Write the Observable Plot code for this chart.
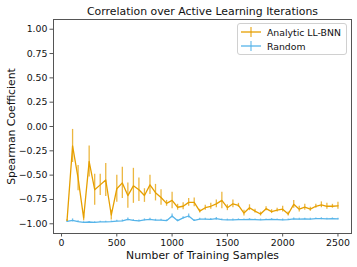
<!DOCTYPE html>
<html>
<head>
<meta charset="utf-8">
<script src="https://cdn.jsdelivr.net/npm/d3@7"></script>
<script src="https://cdn.jsdelivr.net/npm/@observablehq/plot@0.6"></script>
<style>
  html, body { margin: 0; padding: 0; background: white; }
  #wrap { position: relative; width: 357px; height: 267px; font-family: "DejaVu Sans", sans-serif; }
  #legend { position: absolute; left: 237px; top: 23px; width: 108px; height: 30px;
            border: 1px solid #d0d0d0; border-radius: 3px; background: rgba(255,255,255,0.85);
            font-size: 9.3px; color: #111; }
  .row { position: absolute; left: 3px; height: 12px; display: flex; align-items: center; }
  .row svg { margin-right: 6px; }
</style>
</head>
<body>
<div id="wrap"><div id="legend"></div></div>
<script>
const samples = [50,100,150,200,250,300,350,400,450,500,550,600,650,700,750,800,850,900,950,1000,
  1050,1100,1150,1200,1250,1300,1350,1400,1450,1500,1550,1600,1650,1700,1750,1800,1850,1900,1950,2000,
  2050,2100,2150,2200,2250,2300,2350,2400,2450,2500];

const llbnnMean = [-0.965,-0.20,-0.53,-0.94,-0.36,-0.65,-0.60,-0.55,-0.91,-0.64,
  -0.58,-0.71,-0.61,-0.65,-0.71,-0.60,-0.68,-0.73,-0.79,-0.76,
  -0.83,-0.82,-0.78,-0.78,-0.87,-0.835,-0.82,-0.795,-0.76,-0.835,
  -0.795,-0.81,-0.89,-0.835,-0.87,-0.90,-0.845,-0.875,-0.86,-0.85,
  -0.90,-0.80,-0.85,-0.83,-0.85,-0.82,-0.805,-0.82,-0.82,-0.815];
const llbnnErr = [0.01,0.17,0.13,0.03,0.16,0.16,0.11,0.17,0.05,0.14,
  0.16,0.13,0.18,0.12,0.07,0.10,0.085,0.08,0.03,0.085,
  0.03,0.035,0.04,0.045,0.02,0.025,0.03,0.04,0.085,0.03,
  0.04,0.02,0.03,0.03,0.02,0.02,0.02,0.02,0.02,0.03,
  0.02,0.04,0.03,0.03,0.02,0.02,0.03,0.03,0.02,0.035];

const randomMean = [-0.975,-0.965,-0.978,-0.985,-0.982,-0.985,-0.98,-0.98,-0.978,-0.972,
  -0.97,-0.955,-0.966,-0.97,-0.96,-0.955,-0.962,-0.962,-0.968,-0.92,
  -0.968,-0.94,-0.92,-0.966,-0.952,-0.952,-0.955,-0.948,-0.958,-0.96,
  -0.96,-0.958,-0.958,-0.955,-0.958,-0.96,-0.958,-0.955,-0.958,-0.96,
  -0.958,-0.95,-0.952,-0.95,-0.952,-0.948,-0.948,-0.95,-0.948,-0.95];
const randomErr = [0.008,0.015,0.008,0.006,0.006,0.006,0.006,0.006,0.006,0.008,
  0.008,0.015,0.008,0.008,0.01,0.012,0.008,0.008,0.008,0.02,
  0.01,0.012,0.02,0.008,0.01,0.008,0.008,0.012,0.008,0.008,
  0.008,0.008,0.008,0.008,0.008,0.008,0.008,0.008,0.008,0.008,
  0.008,0.01,0.008,0.008,0.008,0.008,0.01,0.008,0.008,0.008];

const seriesNames = ["Analytic LL-BNN", "Random"];
const seriesColors = ["#E69F00", "#56B4E9"];
const xTicks = [0, 500, 1000, 1500, 2000, 2500];
const yTicks = [-1, -0.75, -0.5, -0.25, 0, 0.25, 0.5, 0.75, 1];

const rows = [];
samples.forEach((s, i) => {
  rows.push({x: s, y: llbnnMean[i], e: llbnnErr[i], series: seriesNames[0]});
  rows.push({x: s, y: randomMean[i], e: randomErr[i], series: seriesNames[1]});
});

const fmt = d3.format(".2f");
const axisColor = "#555";

const chart = Plot.plot({
  width: 357, height: 267,
  marginLeft: 53, marginRight: 6, marginTop: 19, marginBottom: 34,
  style: {fontFamily: "DejaVu Sans", fontSize: "9.4px", background: "white", color: "#111", overflow: "visible"},
  x: {domain: [-72.5, 2622.5]},
  y: {domain: [-1.1, 1.1]},
  color: {domain: seriesNames, range: seriesColors},
  marks: [
    Plot.ruleX(rows.filter(d => d.series === seriesNames[1]), {x: "x", y1: d => d.y - d.e, y2: d => d.y + d.e, stroke: "series", strokeWidth: 1.3, strokeOpacity: 0.8}),
    Plot.line(rows.filter(d => d.series === seriesNames[1]), {x: "x", y: "y", stroke: "series", strokeWidth: 1.3}),
    Plot.ruleX(rows.filter(d => d.series === seriesNames[0]), {x: "x", y1: d => d.y - d.e, y2: d => d.y + d.e, stroke: "series", strokeWidth: 1.3, strokeOpacity: 0.75}),
    Plot.line(rows.filter(d => d.series === seriesNames[0]), {x: "x", y: "y", stroke: "series", strokeWidth: 1.3}),
    Plot.frame({stroke: axisColor, strokeWidth: 1}),
    Plot.axisX({ticks: xTicks, tickFormat: d3.format("d"), tickSize: 3.5, tickPadding: 2, stroke: axisColor, label: null, fontSize: 9.4}),
    Plot.axisY({ticks: yTicks, tickFormat: fmt, tickSize: 3.5, tickPadding: 2.5, stroke: axisColor, label: null, fontSize: 9.4}),
    Plot.text(["Correlation over Active Learning Iterations"], {frameAnchor: "top", dy: -8.5, lineAnchor: "middle", textAnchor: "middle", fontSize: 10.9, fill: "#111"}),
    Plot.text(["Number of Training Samples"], {frameAnchor: "bottom", dy: 22.5, lineAnchor: "middle", textAnchor: "middle", fontSize: 10.8, fill: "#111"}),
    Plot.text(["Spearman Coefficient"], {frameAnchor: "left", dx: -41.5, rotate: -90, lineAnchor: "middle", textAnchor: "middle", fontSize: 10.8, fill: "#111"})
  ]
});
const wrap = document.getElementById("wrap");
wrap.insertBefore(chart, wrap.firstChild);

const legend = document.getElementById("legend");
seriesNames.forEach((name, i) => {
  const row = document.createElement("div");
  row.className = "row";
  row.style.top = (2 + i * 14) + "px";
  row.innerHTML = `<svg width="20" height="12"><line x1="0" y1="6" x2="20" y2="6" stroke="${seriesColors[i]}" stroke-width="1.3"/><line x1="10" y1="1" x2="10" y2="11" stroke="${seriesColors[i]}" stroke-width="1.3" stroke-opacity="0.8"/></svg><span>${name}</span>`;
  legend.appendChild(row);
});
</script>
</body>
</html>
